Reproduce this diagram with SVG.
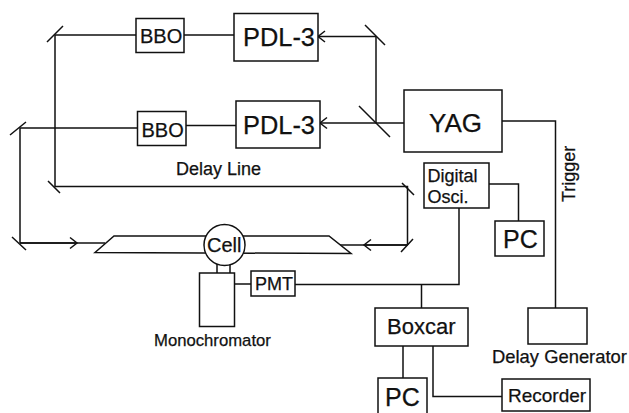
<svg xmlns="http://www.w3.org/2000/svg" width="629" height="413" viewBox="0 0 629 413">
<style>
.b{fill:#fff;stroke:#111;stroke-width:1.5}
.n{fill:none;stroke:#111;stroke-width:1.5}
.t{font-family:"Liberation Sans",Arial,sans-serif;fill:#111;stroke:#111;stroke-width:.25}
</style>
<defs>
<marker id="a" markerUnits="userSpaceOnUse" markerWidth="12" markerHeight="14" refX="10" refY="7" orient="auto"><path d="M3 1.5L10 7L3 12.5" fill="none" stroke="#111" stroke-width="1.5"/></marker>
</defs>
<rect width="629" height="413" fill="#fff"/>
<g id="connectors" class="n">
<path class="n" d="M136 35H55V186.500H407.500V245"/>
<path class="n" d="M47 42L63 26M48 181L60 193M402 183L414 195M401 252L413 239"/>
<path class="n" d="M137 128H20V243"/>
<path class="n" d="M10 135L26 122M12 237L26 250"/>
<path class="n" d="M20 243H105"/>
<path class="n" d="M20 243H77" marker-end="url(#a)"/>
<path class="n" d="M407.500 245H340"/>
<path class="n" d="M407.500 245H364" marker-end="url(#a)"/>
<path class="n" d="M184 35H234M186 125.500H236"/>
<path class="n" d="M376 36.500H318" marker-end="url(#a)"/>
<path class="n" d="M376 36.500V123"/>
<path class="n" d="M365 25L385 45M359 106L390 137"/>
<path class="n" d="M404 123H320" marker-end="url(#a)"/>
<path class="n" d="M502 121H555.500V308"/>
<path class="n" d="M489 184H518.500V221"/>
<path class="n" d="M459 208V284.500H295M421.500 284.500V308M235 284H251"/>
<path class="n" d="M403 346V378M433 346V396.500H502"/>
<path class="n" d="M217 263V273M230 263V273"/>
</g>
<g id="trapezoid"><path class="b" d="M95 252.500L114 236H329L351 253.500Z"/></g>
<g id="bbo1"><rect class="b" x="136" y="18.500" width="48" height="34"/><text class="t" x="140" y="42.500" font-size="20">BBO</text></g>
<g id="pdl1"><rect class="b" x="234" y="13.500" width="84" height="47.500"/><text class="t" x="243" y="46" font-size="25.400">PDL-3</text></g>
<g id="bbo2"><rect class="b" x="137.500" y="111.500" width="48.500" height="34"/><text class="t" x="141.500" y="136.500" font-size="20">BBO</text></g>
<g id="pdl2"><rect class="b" x="236" y="101" width="84" height="47"/><text class="t" x="243" y="134" font-size="25.400">PDL-3</text></g>
<g id="yag"><rect class="b" x="404" y="90" width="98" height="62"/><text class="t" x="429" y="132" font-size="26">YAG</text></g>
<g id="digital"><rect class="b" x="424" y="163" width="65" height="45"/><text class="t" x="427.500" y="182" font-size="18">Digital</text><text class="t" x="427.500" y="203" font-size="18">Osci.</text></g>
<g id="pc2"><rect class="b" x="495" y="221" width="49" height="35"/><text class="t" x="503" y="248" font-size="25">PC</text></g>
<g id="cell"><circle class="b" cx="224.500" cy="245" r="20.500"/><text class="t" x="207" y="252" font-size="20">Cell</text></g>
<g id="mono"><rect class="b" x="199.500" y="273" width="35" height="53.500"/><text class="t" x="154" y="346" font-size="16.700">Monochromator</text></g>
<g id="pmt"><rect class="b" x="251" y="271" width="44" height="25"/><text class="t" x="255" y="290" font-size="18">PMT</text></g>
<g id="boxcar"><rect class="b" x="375" y="308" width="93" height="38"/><text class="t" x="387" y="334" font-size="22">Boxcar</text></g>
<g id="pc1"><rect class="b" x="378" y="378" width="49" height="40"/><text class="t" x="385" y="406" font-size="25">PC</text></g>
<g id="recorder"><rect class="b" x="502" y="379" width="88" height="32"/><text class="t" x="508" y="402" font-size="19">Recorder</text></g>
<g id="delaygen"><rect class="b" x="528" y="308" width="59" height="36"/><text class="t" x="492" y="363" font-size="18.400">Delay Generator</text></g>
<g id="labels"><text class="t" x="176" y="175" font-size="18">Delay Line</text><text class="t" transform="translate(575 202) rotate(-90)" font-size="18">Trigger</text></g>
</svg>
